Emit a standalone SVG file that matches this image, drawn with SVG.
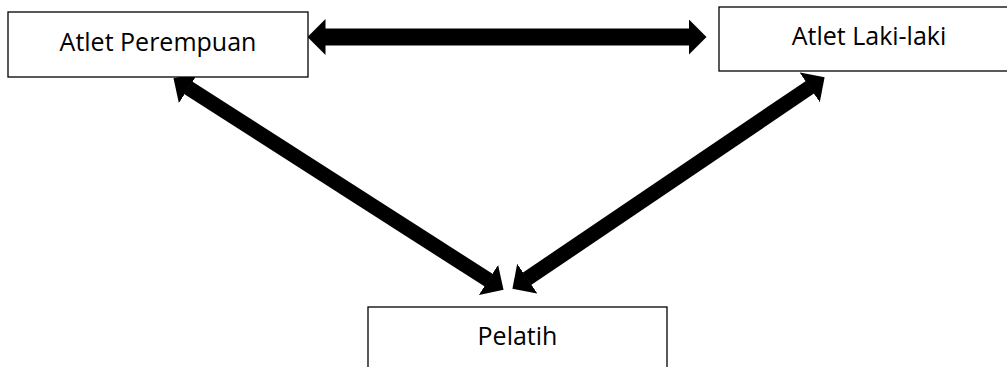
<svg xmlns="http://www.w3.org/2000/svg" width="1007" height="367" viewBox="0 0 1007 367">
<style>
.box{fill:#fff;stroke:#000;stroke-width:1.3}
.lbl{font-family:"Open Sans","Liberation Sans",sans-serif;font-size:25px;fill:#000;text-anchor:middle}
.conn{stroke:#000;fill:none;marker-start:url(#ah);marker-end:url(#ah)}
</style>
<defs>
<marker id="ah" markerUnits="userSpaceOnUse" markerWidth="18" markerHeight="36" viewBox="0 0 18 36" refX="0.5" refY="18" orient="auto-start-reverse">
<path d="M0,0 L18,18 L0,36 Z" fill="#000"/>
</marker>
</defs>
<g id="connectors">
<path class="conn" stroke-width="17" d="M325,37 L689,37"/>
<path class="conn" stroke-width="15" d="M188.2,87.7 L488.8,280.3"/>
<path class="conn" stroke-width="15" d="M810.1,87.1 L526.9,278.9"/>
</g>
<g id="atlet-perempuan">
<rect class="box" x="8" y="12" width="300" height="65"/>
<text class="lbl" x="158" y="51">Atlet Perempuan</text>
</g>
<g id="atlet-laki-laki">
<rect class="box" x="719" y="7" width="300" height="64"/>
<text class="lbl" x="869" y="45">Atlet Laki-laki</text>
</g>
<g id="pelatih">
<rect class="box" x="368" y="307" width="299" height="70"/>
<text class="lbl" x="517.5" y="345">Pelatih</text>
</g>
</svg>
